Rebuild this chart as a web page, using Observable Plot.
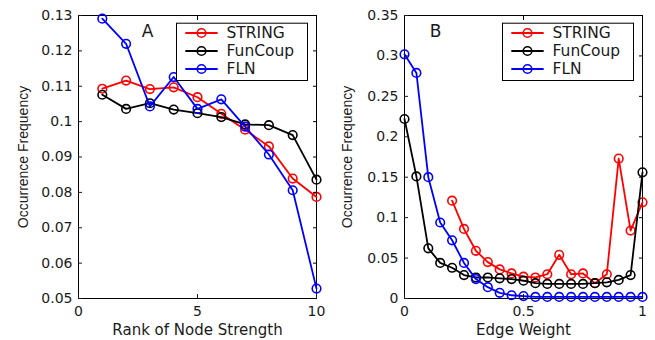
<!DOCTYPE html>
<html>
<head>
<meta charset="utf-8">
<script src="https://cdn.jsdelivr.net/npm/d3@7"></script>
<script src="https://cdn.jsdelivr.net/npm/@observablehq/plot@0.6"></script>
<style>
  html, body { margin: 0; padding: 0; background: #fff; }
  #wrap { display: flex; width: 655px; height: 340px; }
</style>
</head>
<body>
<div id="wrap"></div>
<script>
// ---------- data ----------
const seriesNames = ["STRING", "FunCoup", "FLN"];
const seriesColors = ["#ff0000", "#000000", "#0000ff"];

// Panel A: rank of node strength
const rank = [1, 2, 3, 4, 5, 6, 7, 8, 9, 10];
const stringA  = [0.1093, 0.1116, 0.1092, 0.1097, 0.1069, 0.1022, 0.0977, 0.0930, 0.0839, 0.0787];
const funcoupA = [0.1076, 0.1036, 0.1052, 0.1034, 0.1024, 0.1013, 0.0992, 0.0990, 0.0962, 0.0836];
const flnA     = [0.1291, 0.1220, 0.1043, 0.1126, 0.1036, 0.1063, 0.0986, 0.0907, 0.0806, 0.0528];
const xTicksA = [0, 5, 10];
const yTicksA = [0.05, 0.06, 0.07, 0.08, 0.09, 0.1, 0.11, 0.12, 0.13];

// Panel B: edge weight
const weight = [0, 0.05, 0.1, 0.15, 0.2, 0.25, 0.3, 0.35, 0.4, 0.45, 0.5,
                0.55, 0.6, 0.65, 0.7, 0.75, 0.8, 0.85, 0.9, 0.95, 1];
const stringB  = [null, null, null, null, 0.121, 0.086, 0.059, 0.045, 0.036, 0.031, 0.027,
                  0.026, 0.030, 0.054, 0.030, 0.031, 0.019, 0.030, 0.173, 0.084, 0.119];
const funcoupB = [0.222, 0.151, 0.062, 0.044, 0.038, 0.029, 0.026, 0.026, 0.025, 0.024, 0.022,
                  0.019, 0.018, 0.018, 0.018, 0.018, 0.019, 0.020, 0.023, 0.029, 0.156];
const flnB     = [0.302, 0.279, 0.150, 0.094, 0.072, 0.044, 0.024, 0.014, 0.007, 0.004, 0.003,
                  0.002, 0.002, 0.002, 0.002, 0.002, 0.002, 0.002, 0.002, 0.002, 0.002];
const xTicksB = [0, 0.5, 1];
const yTicksB = [0, 0.05, 0.1, 0.15, 0.2, 0.25, 0.3, 0.35];

// ---------- drawing ----------
const textColor = "#1a1a1a";
const tickFont = "DejaVu Sans";
const lineShape = { draw(ctx, l) { ctx.moveTo(0, 0); ctx.lineTo(0, -l); } };

function panel({xs, values, xDomain, yDomain, xTicks, yTicks, xLabel, letter, letterDx,
                width, marginLeft, marginRight, yLabelDx}) {
  const marks = [];
  marks.push(Plot.frame({stroke: "black", strokeWidth: 1}));
  values.forEach((vals, s) => {
    const rows = xs.map((x, i) => ({x, y: vals[i]})).filter(d => d.y != null);
    marks.push(Plot.line(rows, {x: "x", y: "y", stroke: seriesColors[s], strokeWidth: 1.8}));
    marks.push(Plot.dot(rows, {x: "x", y: "y", r: 4.3, stroke: seriesColors[s], strokeWidth: 1.6, fill: "none"}));
  });
  // axes with inward ticks on all sides
  const fmt = d => String(d);
  marks.push(Plot.axisX(xTicks, {anchor: "bottom", tickSize: -4, tickPadding: 12, label: null,
    tickFormat: fmt, fontSize: 14, fontFamily: tickFont, color: textColor}));
  marks.push(Plot.axisX(xTicks, {anchor: "top", tickSize: -4, label: null, tickFormat: () => ""}));
  marks.push(Plot.axisY(yTicks, {anchor: "left", tickSize: -4, tickPadding: 10, label: null,
    tickFormat: fmt, fontSize: 14, fontFamily: tickFont, color: textColor}));
  marks.push(Plot.axisY(yTicks, {anchor: "right", tickSize: -4, label: null, tickFormat: () => ""}));
  // axis titles
  marks.push(Plot.text([xLabel], {text: d => d, frameAnchor: "bottom", dy: 32, lineAnchor: "middle",
    fontSize: 15, fontFamily: tickFont, fill: textColor}));
  marks.push(Plot.text(["Occurrence Frequency"], {text: d => d, frameAnchor: "left", dx: yLabelDx,
    rotate: -90, lineAnchor: "middle", textAnchor: "middle",
    fontSize: 14, fontFamily: "Liberation Sans", fill: textColor}));
  // panel letter
  marks.push(Plot.text([letter], {text: d => d, frameAnchor: "top-left", dx: letterDx, dy: 16,
    lineAnchor: "middle", textAnchor: "middle", fontSize: 17, fontFamily: tickFont, fill: textColor}));
  // legend box
  marks.push(Plot.frame({fill: "white", stroke: "black", strokeWidth: 1,
    insetLeft: width - marginLeft - marginRight - 140, insetRight: 9, insetTop: 7.7, insetBottom: 218}));
  seriesNames.forEach((name, s) => {
    const dy = 17.5 + 18 * s;
    marks.push(Plot.vector([0], {frameAnchor: "top-right", dx: -115, dy, length: 31, rotate: 90,
      anchor: "middle", shape: lineShape, stroke: seriesColors[s], strokeWidth: 1.8}));
    marks.push(Plot.dot([0], {frameAnchor: "top-right", dx: -115, dy, r: 4.3,
      stroke: seriesColors[s], strokeWidth: 1.6, fill: "none"}));
    marks.push(Plot.text([name], {text: d => d, frameAnchor: "top-right", dx: -90, dy,
      textAnchor: "start", lineAnchor: "middle", fontSize: 15.5, fontFamily: tickFont, fill: textColor}));
  });
  return Plot.plot({
    width, height: 340,
    marginLeft, marginRight, marginTop: 15, marginBottom: 42,
    x: {domain: xDomain},
    y: {domain: yDomain},
    style: {background: "white", overflow: "visible"},
    marks
  });
}

const wrap = document.getElementById("wrap");
wrap.appendChild(panel({
  xs: rank, values: [stringA, funcoupA, flnA],
  xDomain: [0, 10], yDomain: [0.05, 0.13], xTicks: xTicksA, yTicks: yTicksA,
  xLabel: "Rank of Node Strength", letter: "A", letterDx: 69,
  width: 327, marginLeft: 78, marginRight: 11, yLabelDx: -55
}));
wrap.appendChild(panel({
  xs: weight, values: [stringB, funcoupB, flnB],
  xDomain: [0, 1], yDomain: [0, 0.35], xTicks: xTicksB, yTicks: yTicksB,
  xLabel: "Edge Weight", letter: "B", letterDx: 31,
  width: 328, marginLeft: 77, marginRight: 13, yLabelDx: -57
}));
</script>
</body>
</html>
